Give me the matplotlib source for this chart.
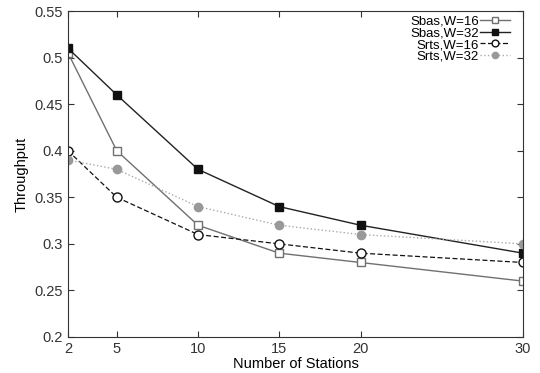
import matplotlib
matplotlib.use("Agg")
import matplotlib.pyplot as plt

plt.rcParams['font.family'] = ['Liberation Sans', 'DejaVu Sans']

# 数据
stations = [2, 5, 10, 15, 20, 30]
sbas_w16 = [0.505, 0.40, 0.32, 0.29, 0.28, 0.26]
sbas_w32 = [0.51, 0.46, 0.38, 0.34, 0.32, 0.29]
srts_w16 = [0.40, 0.35, 0.31, 0.30, 0.29, 0.28]
srts_w32 = [0.39, 0.38, 0.34, 0.32, 0.31, 0.30]
yticks = [0.2, 0.25, 0.3, 0.35, 0.4, 0.45, 0.5, 0.55]
ylabels = ['0.2', '0.25', '0.3', '0.35', '0.4', '0.45', '0.5', '0.55']

fig = plt.figure(figsize=(5.4, 3.73), dpi=100)
ax = fig.add_axes([68/540, 1-337/373, (523-68)/540, (337-11)/373])

ax.plot(stations, sbas_w16, '-', color='#707070', lw=1, marker='s', ms=6,
        mfc='white', mec='#707070', mew=1, label='Sbas,W=16')
ax.plot(stations, sbas_w32, '-', color='#222222', lw=1, marker='s', ms=6,
        mfc='#111111', mec='#111111', label='Sbas,W=32')
ax.plot(stations, srts_w16, '--', color='#111111', lw=0.9, dashes=(4, 2), marker='o', ms=6.5,
        mfc='white', mec='#111111', mew=1, label='Srts,W=16')
ax.plot(stations, srts_w32, ':', color='#aaaaaa', lw=1, marker='o', ms=6,
        mfc='#999999', mec='#999999', label='Srts,W=32')

ax.set_xlim(2, 30)
ax.set_ylim(0.2, 0.55)
ax.set_xticks(stations)
ax.set_yticks(yticks)
ax.set_yticklabels(ylabels)
ax.tick_params(direction='in', top=True, right=True, labelsize=10.5, length=4, colors='#333333')
for s in ax.spines.values():
    s.set_color('#333333')
ax.set_xlabel('Number of Stations', fontsize=10.5, labelpad=1)
ax.set_ylabel('Throughput', fontsize=10.5)

leg = ax.legend(loc='upper right', bbox_to_anchor=(1 - 10/455, 1 - 2/326), frameon=False,
                markerfirst=False, fontsize=9.5, handlelength=2.3, labelspacing=-0.05,
                borderaxespad=0, borderpad=0.2, handletextpad=0.1, markerscale=0.75)
for t in leg.get_texts():
    t.set_ha('right')

fig.savefig('out.png', dpi=100)
